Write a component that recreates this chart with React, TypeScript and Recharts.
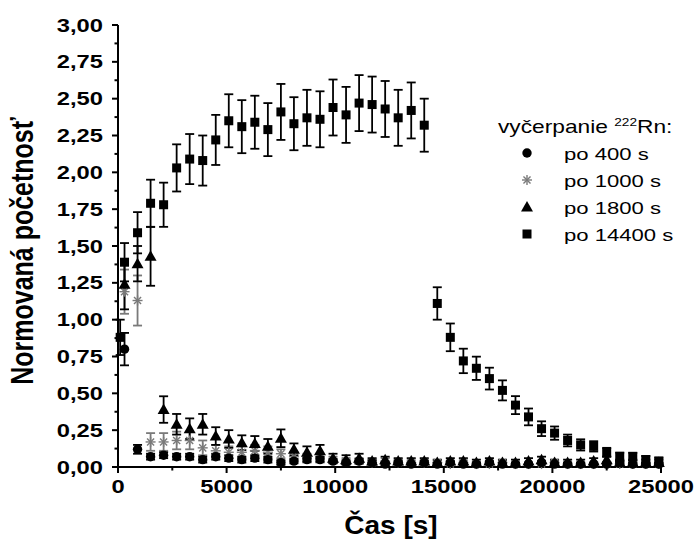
// Normovaná početnosť vs. čas — four radon-depletion runs with error bars.

import { ScatterChart, Scatter, XAxis, YAxis, ErrorBar } from 'recharts';

const FONT = '"Liberation Sans", Arial, sans-serif';
const SX = 1.32; // the reference text is stretched horizontally
const STAR = '#7a7a7a';

// po 14400 s (squares)
const squareT = [100, 300, 900, 1500, 2100, 2700, 3300, 3900, 4500, 5100, 5700, 6300, 6900, 7500, 8100, 8700, 9300, 9900, 10500, 11100, 11700, 12300, 12900, 13500, 14100, 14700, 15300, 15900, 16500, 17100, 17700, 18300, 18900, 19500, 20100, 20700, 21300, 21900, 22500, 23100, 23700, 24300, 24900];
const squareV = [0.88, 1.39, 1.59, 1.79, 1.78, 2.03, 2.09, 2.08, 2.22, 2.35, 2.31, 2.34, 2.29, 2.41, 2.33, 2.37, 2.36, 2.44, 2.39, 2.47, 2.46, 2.43, 2.37, 2.42, 2.32, 1.11, 0.88, 0.72, 0.67, 0.6, 0.52, 0.42, 0.34, 0.26, 0.23, 0.18, 0.15, 0.14, 0.1, 0.07, 0.07, 0.05, 0.04];
const squareE = [0.12, 0.13, 0.14, 0.16, 0.15, 0.16, 0.17, 0.17, 0.17, 0.18, 0.18, 0.18, 0.18, 0.19, 0.18, 0.19, 0.19, 0.19, 0.19, 0.19, 0.19, 0.19, 0.19, 0.19, 0.18, 0.11, 0.094, 0.083, 0.079, 0.074, 0.068, 0.061, 0.057, 0.05, 0.045, 0.04, 0.038, 0.035, 0.03, 0.028, 0.027, 0.025, 0.024];

// shared time points for the other three runs
const runT = [300, 900, 1500, 2100, 2700, 3300, 3900, 4500, 5100, 5700, 6300, 6900, 7500, 8100, 8700, 9300, 9900, 10500, 11100, 11700, 12300, 12900, 13500, 14100, 14700, 15300, 15900, 16500, 17100, 17700, 18300, 18900, 19500, 20100, 20700, 21300, 21900, 22500, 23100, 23700, 24300, 24900];

// po 400 s (circles)
const circleV = [0.8, 0.12, 0.07, 0.08, 0.07, 0.07, 0.05, 0.07, 0.06, 0.05, 0.06, 0.05, 0.03, 0.04, 0.05, 0.05, 0.04, 0.03, 0.04, 0.03, 0.02, 0.03, 0.02, 0.03, 0.02, 0.03, 0.02, 0.02, 0.03, 0.02, 0.02, 0.02, 0.03, 0.02, 0.02, 0.02, 0.02, 0.02, 0.03, 0.02, 0.02, 0.02];
const circleE = [0.11, 0.03, 0.02, 0.02, 0.02, 0.02, 0.02, 0.02, 0.02, 0.02, 0.02, 0.02, 0.015, 0.015, 0.015, 0.015, 0.015, 0.015, 0.015, 0.015, 0.01, 0.01, 0.01, 0.01, 0.01, 0.01, 0.01, 0.01, 0.01, 0.01, 0.01, 0.01, 0.01, 0.01, 0.01, 0.01, 0.01, 0.01, 0.01, 0.01, 0.01, 0.01];

// po 1000 s (asterisks)
const starV = [1.19, 1.13, 0.17, 0.17, 0.18, 0.18, 0.13, 0.11, 0.1, 0.1, 0.11, 0.1, 0.09, 0.07, 0.06, 0.06, 0.05, 0.04, 0.04, 0.03, 0.04, 0.03, 0.03, 0.03, 0.03, 0.02, 0.03, 0.02, 0.02, 0.03, 0.02, 0.02, 0.02, 0.03, 0.02, 0.02, 0.02, 0.02, 0.02, 0.02, 0.02, 0.02];
const starE = [0.15, 0.17, 0.06, 0.06, 0.06, 0.06, 0.05, 0.04, 0.04, 0.04, 0.04, 0.04, 0.03, 0.03, 0.03, 0.03, 0.02, 0.02, 0.02, 0.02, 0.02, 0.02, 0.015, 0.015, 0.015, 0.015, 0.015, 0.015, 0.015, 0.015, 0.01, 0.01, 0.01, 0.01, 0.01, 0.01, 0.01, 0.01, 0.01, 0.01, 0.01, 0.01];

// po 1800 s (triangles)
const triV = [1.24, 1.38, 1.43, 0.39, 0.29, 0.26, 0.29, 0.21, 0.19, 0.165, 0.16, 0.14, 0.195, 0.12, 0.1, 0.11, 0.06, 0.05, 0.06, 0.04, 0.05, 0.04, 0.04, 0.04, 0.03, 0.04, 0.04, 0.03, 0.04, 0.03, 0.03, 0.04, 0.05, 0.03, 0.03, 0.03, 0.04, 0.05, 0.03, 0.03, 0.03, 0.03];
const triE = [0.17, 0.12, 0.2, 0.09, 0.07, 0.07, 0.07, 0.06, 0.06, 0.05, 0.05, 0.05, 0.06, 0.04, 0.04, 0.04, 0.03, 0.03, 0.03, 0.02, 0.02, 0.02, 0.02, 0.02, 0.02, 0.02, 0.02, 0.02, 0.02, 0.02, 0.02, 0.02, 0.02, 0.02, 0.02, 0.02, 0.02, 0.02, 0.02, 0.02, 0.02, 0.02];

const xMajor = [0, 5000, 10000, 15000, 20000, 25000];
const xTicks = [0, 2500, 5000, 7500, 10000, 12500, 15000, 17500, 20000, 22500, 25000];
const yTicks = [0, 0.125, 0.25, 0.375, 0.5, 0.625, 0.75, 0.875, 1, 1.125, 1.25, 1.375, 1.5, 1.625, 1.75, 1.875, 2, 2.125, 2.25, 2.375, 2.5, 2.625, 2.75, 2.875, 3];

const legendItems = [
  { label: 'po 400 s', kind: 'circle' },
  { label: 'po 1000 s', kind: 'star' },
  { label: 'po 1800 s', kind: 'triangle' },
  { label: 'po 14400 s', kind: 'square' },
];

const build = (t: number[], v: number[], e: number[]) =>
  t.map((x, i) => ({ x, y: v[i], err: e[i] }));

function Marker({ kind, cx, cy }: { kind: string; cx: number; cy: number }) {
  if (kind === 'square') return <rect x={cx - 4.5} y={cy - 4.5} width={9} height={9} fill="#000" />;
  if (kind === 'circle') return <circle cx={cx} cy={cy} r={4.7} fill="#000" />;
  if (kind === 'triangle')
    return <path d={`M${cx},${cy - 6} L${cx + 6},${cy + 4.5} L${cx - 6},${cy + 4.5} Z`} fill="#000" />;
  const r = 5;
  const d = r * 0.707;
  return (
    <g stroke={STAR} strokeWidth={1.4}>
      <line x1={cx} y1={cy - r} x2={cx} y2={cy + r} />
      <line x1={cx - r} y1={cy} x2={cx + r} y2={cy} />
      <line x1={cx - d} y1={cy - d} x2={cx + d} y2={cy + d} />
      <line x1={cx - d} y1={cy + d} x2={cx + d} y2={cy - d} />
    </g>
  );
}

function XTick({ x, y, payload }: any) {
  const major = xMajor.includes(payload.value);
  return (
    <g>
      <line x1={x} x2={x} y1={y} y2={y + (major ? 6 : 3.5)} stroke="#000" strokeWidth={2} />
      {major && (
        <text
          transform={`translate(${x},${y + 26}) scale(${SX},1)`}
          textAnchor="middle"
          fontFamily={FONT}
          fontWeight="bold"
          fontSize={18}
          fill="#000"
        >
          {payload.value}
        </text>
      )}
    </g>
  );
}

function YTick({ x, y, payload }: any) {
  const v = payload.value as number;
  const major = Math.abs(v * 4 - Math.round(v * 4)) < 1e-6;
  return (
    <g>
      <line x1={x - (major ? 6 : 3.5)} x2={x} y1={y} y2={y} stroke="#000" strokeWidth={2} />
      {major && (
        <text
          transform={`translate(${x - 15},${y + 6.5}) scale(${SX},1)`}
          textAnchor="end"
          fontFamily={FONT}
          fontWeight="bold"
          fontSize={18}
          fill="#000"
        >
          {v.toFixed(2).replace('.', ',')}
        </text>
      )}
    </g>
  );
}

export default function App() {
  const series = [
    { kind: 'star', data: build(runT, starV, starE), color: STAR },
    { kind: 'circle', data: build(runT, circleV, circleE), color: '#000' },
    { kind: 'triangle', data: build(runT, triV, triE), color: '#000' },
    { kind: 'square', data: build(squareT, squareV, squareE), color: '#000' },
  ];

  return (
    <div style={{ position: 'absolute', left: 0, top: 0, width: 698, height: 555, background: '#fff' }}>
      <ScatterChart width={698} height={555} margin={{ top: 25, right: 37, bottom: 0, left: 0 }}>
        <XAxis
          type="number"
          dataKey="x"
          domain={[0, 25000]}
          ticks={xTicks}
          interval={0}
          height={88}
          tickLine={false}
          tickSize={0}
          tickMargin={0}
          tick={<XTick />}
          axisLine={{ stroke: '#000', strokeWidth: 2 }}
        />
        <YAxis
          type="number"
          dataKey="y"
          domain={[0, 3]}
          ticks={yTicks}
          interval={0}
          width={118}
          tickLine={false}
          tickSize={0}
          tickMargin={0}
          tick={<YTick />}
          axisLine={{ stroke: '#000', strokeWidth: 2 }}
        />
        {series.map((s) => (
          <Scatter
            key={s.kind}
            data={s.data}
            isAnimationActive={false}
            shape={(p: any) => <Marker kind={s.kind} cx={p.cx} cy={p.cy} />}
          >
            <ErrorBar dataKey="err" direction="y" width={4.5} stroke={s.color} strokeWidth={1.8} isAnimationActive={false} />
          </Scatter>
        ))}
      </ScatterChart>

      <svg width={698} height={555} style={{ position: 'absolute', left: 0, top: 0, pointerEvents: 'none' }}>
        <text
          transform="translate(33,251) rotate(-90) scale(1,1.25)"
          textAnchor="middle"
          fontFamily={FONT}
          fontWeight="bold"
          fontSize={25}
          fill="#000"
        >
          Normovaná početnosť
        </text>
        <text
          transform="translate(391,534) scale(1.12,1)"
          textAnchor="middle"
          fontFamily={FONT}
          fontWeight="bold"
          fontSize={25}
          fill="#000"
        >
          Čas [s]
        </text>
        <text transform={`translate(498,133) scale(1.3,1)`} fontFamily={FONT} fontSize={17.5} fill="#000">
          vyčerpanie{' '}
          <tspan fontSize={10.5} dy={-7}>222</tspan>
          <tspan dy={7}>Rn:</tspan>
        </text>
        {legendItems.map((it, i) => {
          const cy = 153 + i * 27;
          return (
            <g key={it.label}>
              <Marker kind={it.kind} cx={527} cy={cy} />
              <text transform={`translate(564,${cy + 6.5}) scale(1.3,1)`} fontFamily={FONT} fontSize={17} fill="#000">
                {it.label}
              </text>
            </g>
          );
        })}
      </svg>
    </div>
  );
}
